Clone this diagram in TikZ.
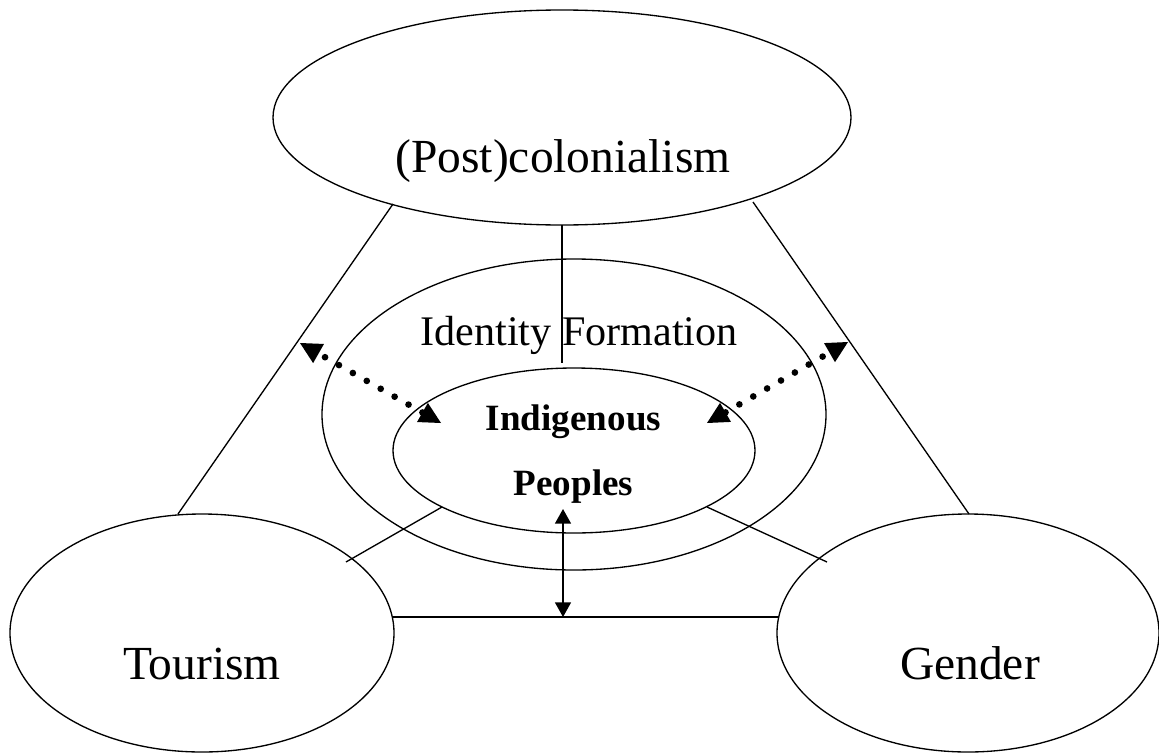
\documentclass[tikz,border=0pt]{standalone}
\usepackage{fontspec}
\setmainfont{Liberation Serif}
\usetikzlibrary{arrows.meta,shapes.geometric}

\tikzset{
  oval/.style={draw, ellipse, line width=1pt, inner sep=0pt, outer sep=0pt},
  biglabel/.style={anchor=base, inner sep=0pt, font=\fontsize{35.6}{40}\selectfont},
  midlabel/.style={anchor=base, inner sep=0pt, font=\fontsize{31.6}{36}\selectfont},
  corelabel/.style={anchor=base, inner sep=0pt, font=\bfseries\fontsize{27.8}{32}\selectfont},
  link/.style={line width=1pt},
  twoway/.style={line width=1.1pt, {Triangle[length=11pt,width=12pt]}-{Triangle[length=11pt,width=12pt]}},
  dotarrow/.style={line width=5pt, line cap=round, dash pattern=on 0pt off 12pt,
    {Triangle[length=16pt,width=16.5pt,line width=0pt]}-{Triangle[length=16pt,width=16.5pt,line width=0pt]}}
}

\begin{document}
\begin{tikzpicture}[x=0.75pt, y=-0.75pt]
  \useasboundingbox (0,0) rectangle (1159,753);

  % ellipses
  \node[oval, minimum width=433.5pt, minimum height=161.25pt] (post)  at (562,117.5) {};
  \node[oval, minimum width=378pt,   minimum height=233.25pt] (ident) at (574,414.5) {};
  \node[oval, minimum width=271.5pt, minimum height=123.75pt] (indig) at (574,450.5) {};
  \node[oval, minimum width=288pt,   minimum height=178.5pt]  (tour)  at (202,633) {};
  \node[oval, minimum width=286.5pt, minimum height=178.5pt]  (gend)  at (968,633) {};

  % labels
  \node[biglabel]  (postlbl)  at (563,172) {(Post)colonialism};
  \node[midlabel]  (identlbl) at (579,345) {Identity Formation};
  \node[corelabel] (indiglbl) at (573.5,430) {Indigenous};
  \node[corelabel] (peoplbl)  at (573.5,495) {Peoples};
  \node[biglabel]  (tourlbl)  at (202,679) {Tourism};
  \node[biglabel]  (gendlbl)  at (970,679) {Gender};

  % connector end points on the ellipse borders
  \coordinate (postL) at (393,204);
  \coordinate (tourT) at (178,514);
  \coordinate (postR) at (753,202);
  \coordinate (gendT) at (969,514);
  \coordinate (identIn) at (562,363);
  \coordinate (tourR) at (393,617);
  \coordinate (gendL) at (778,617);
  \coordinate (indigL) at (442,507);
  \coordinate (tourUR) at (346,562);
  \coordinate (indigR) at (707,507);
  \coordinate (gendUL) at (827,562);
  \coordinate (indigB) at (563,509);
  \coordinate (baseM) at (563,617);
  \coordinate (indigNW) at (441,423);
  \coordinate (leftOut) at (300,343);
  \coordinate (indigNE) at (707,423);
  \coordinate (rightOut) at (848,342);

  % solid links
  \draw[link] (postL) -- (tourT);
  \draw[link] (postR) -- (gendT);
  \draw[link] (post.south) -- (identIn);
  \draw[link] (tourR) -- (gendL);
  \draw[link] (indigL) -- (tourUR);
  \draw[link] (indigR) -- (gendUL);

  % two-way arrows
  \draw[twoway] (indigB) -- (baseM);
  \draw[dotarrow] (indigNW) -- (leftOut);
  \draw[dotarrow] (indigNE) -- (rightOut);
\end{tikzpicture}
\end{document}
